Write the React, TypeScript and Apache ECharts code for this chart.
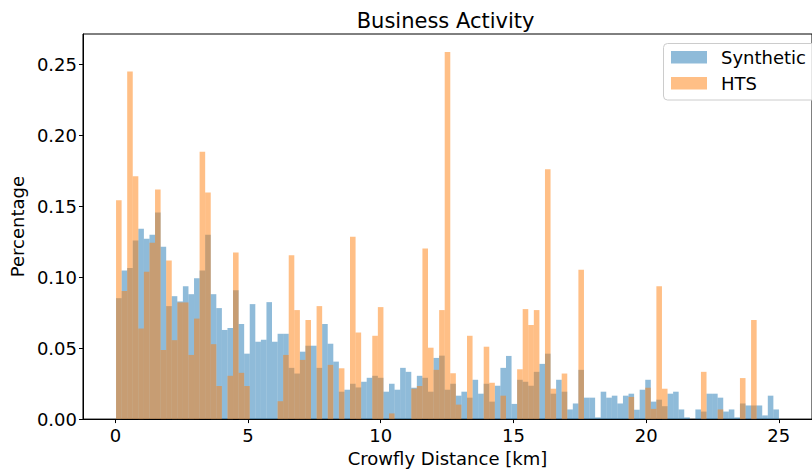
import React, { useEffect, useRef } from "react";
import * as echarts from "echarts";

const binStart = 0.026;
const binWidth = 0.2099;

const synthetic = [
  0.0852, 0.1047, 0.1064, 0.1259, 0.1341, 0.1271, 0.1299, 0.1455, 0.1215, 0.0796,
  0.0866, 0.0829, 0.0936, 0.0880, 0.0992, 0.1047, 0.1299, 0.0880, 0.0782, 0.0628,
  0.0642, 0.0908, 0.0670, 0.0461, 0.0810, 0.0545, 0.0559, 0.0824, 0.0545, 0.0601,
  0.0601, 0.0361, 0.0321, 0.0475, 0.0517, 0.0517, 0.0361, 0.0670, 0.0531, 0.0405,
  0.0193, 0.0207, 0.0249, 0.0223, 0.0263, 0.0291, 0.0305, 0.0291, 0.0193, 0.0249,
  0.0207, 0.0361, 0.0333, 0.0221, 0.0305, 0.0291, 0.0193, 0.0431, 0.0447, 0.0207,
  0.0249, 0.0165, 0.0193, 0.0151, 0.0277, 0.0179, 0.0249, 0.0123, 0.0235, 0.0361,
  0.0445, 0.0107, 0.0277, 0.0263, 0.0235, 0.0333, 0.0389, 0.0461, 0.0179, 0.0277,
  0.0193, 0.0068, 0.0110, 0.0347, 0.0151, 0.0151, 0.0012, 0.0193, 0.0151, 0.0165,
  0.0110, 0.0165, 0.0179, 0.0066, 0.0207, 0.0277, 0.0123, 0.0137, 0.0091, 0.0179,
  0.0193, 0.0068, 0.0012, 0.0000, 0.0068, 0.0053, 0.0179, 0.0179, 0.0151, 0.0053,
  0.0068, 0.0012, 0.0110, 0.0096, 0.0096, 0.0096, 0.0026, 0.0165, 0.0068,
];

const hts = [
  0.1541, 0.0903, 0.2449, 0.1711, 0.0638, 0.1038, 0.1243, 0.1618, 0.0487, 0.1117,
  0.0556, 0.0822, 0.0822, 0.0452, 0.0708, 0.1883, 0.1597, 0.0528, 0.0233, 0.0000,
  0.0305, 0.1173, 0.0326, 0.0233, 0.0000, 0.0000, 0.0000, 0.0000, 0.0000, 0.0126,
  0.0452, 0.1155, 0.0768, 0.0417, 0.0698, 0.0000, 0.0796, 0.0000, 0.0382, 0.0000,
  0.0358, 0.0000, 0.1285, 0.0610, 0.0000, 0.0000, 0.0587, 0.0789, 0.0000, 0.0040,
  0.0000, 0.0000, 0.0000, 0.0214, 0.0233, 0.1201, 0.0503, 0.0347, 0.0768, 0.2586,
  0.0323, 0.0102, 0.0000, 0.0587, 0.0000, 0.0000, 0.0510, 0.0256, 0.0000, 0.0165,
  0.0000, 0.0000, 0.0351, 0.0775, 0.0663, 0.0768, 0.0000, 0.1760, 0.0214, 0.0000,
  0.0321, 0.0000, 0.0000, 0.1052, 0.0000, 0.0000, 0.0000, 0.0000, 0.0000, 0.0000,
  0.0000, 0.0000, 0.0156, 0.0000, 0.0000, 0.0221, 0.0072, 0.0936, 0.0214, 0.0000,
  0.0000, 0.0000, 0.0000, 0.0000, 0.0000, 0.0333, 0.0000, 0.0000, 0.0068, 0.0000,
  0.0000, 0.0000, 0.0289, 0.0000, 0.0698, 0.0000, 0.0000, 0.0000, 0.0000,
];

const xTicks = [0, 5, 10, 15, 20, 25];
const yTicks = [0, 0.05, 0.1, 0.15, 0.2, 0.25];
const seriesNames = ["Synthetic", "HTS"];
const titleText = "Business Activity";
const xLabel = "Crowfly Distance [km]";
const yLabel = "Percentage";

const FONT = "DejaVu Sans";

function toBins(values: number[]) {
  return values
    .map((v, i) => [binStart + i * binWidth, binStart + (i + 1) * binWidth, v])
    .filter((d) => d[2] > 0);
}

function makeRender(fill: string) {
  return (params: any, api: any) => {
    const p0 = api.coord([api.value(0), api.value(2)]);
    const p1 = api.coord([api.value(1), 0]);
    return {
      type: "rect",
      shape: { x: p0[0], y: p0[1], width: p1[0] - p0[0], height: p1[1] - p0[1] },
      style: { fill },
    };
  };
}

export default function App() {
  const ref = useRef<HTMLDivElement>(null);
  useEffect(() => {
    if (!ref.current) return;
    const chart = echarts.init(ref.current, null, { renderer: "svg" });
    const blue = "rgba(31,119,180,0.5)";
    const orange = "rgba(255,127,14,0.5)";
    chart.setOption({
      animation: false,
      backgroundColor: "#fff",
      grid: {
        left: 77,
        top: 34,
        width: 737,
        height: 389,
        show: true,
        borderColor: "#000",
        borderWidth: 1,
      },
      xAxis: {
        type: "value",
        min: -1.22,
        max: 26.25,
        name: xLabel,
        nameLocation: "middle",
        nameGap: 28,
        nameTextStyle: { fontSize: 18, fontFamily: FONT, color: "#000" },
        axisLine: { show: true, onZero: false, lineStyle: { color: "#000", width: 1 } },
        axisTick: { show: true, length: 4, customValues: xTicks, lineStyle: { color: "#000" } },
        axisLabel: {
          customValues: xTicks,
          fontSize: 18,
          fontFamily: FONT,
          color: "#000",
          margin: 7,
          formatter: (v: number) => String(v),
        },
        splitLine: { show: false },
      },
      yAxis: {
        type: "value",
        min: 0,
        max: 0.2713,
        name: yLabel,
        nameLocation: "middle",
        nameGap: 52,
        nameRotate: 90,
        nameTextStyle: { fontSize: 18, fontFamily: FONT, color: "#000" },
        axisLine: { show: true, onZero: false, lineStyle: { color: "#000", width: 1 } },
        axisTick: { show: true, length: 4, customValues: yTicks, lineStyle: { color: "#000" } },
        axisLabel: {
          customValues: yTicks,
          fontSize: 18,
          fontFamily: FONT,
          color: "#000",
          margin: 6,
          formatter: (v: number) => v.toFixed(2),
        },
        splitLine: { show: false },
      },
      series: [
        {
          name: seriesNames[0],
          type: "custom",
          renderItem: makeRender(blue),
          encode: { x: [0, 1], y: 2 },
          data: toBins(synthetic),
        },
        {
          name: seriesNames[1],
          type: "custom",
          renderItem: makeRender(orange),
          encode: { x: [0, 1], y: 2 },
          data: toBins(hts),
        },
      ],
      graphic: [
        {
          type: "text",
          x: 445.6,
          y: 20.5,
          style: {
            text: titleText,
            fontSize: 21,
            fontFamily: FONT,
            fill: "#000",
            textAlign: "center",
            textVerticalAlign: "middle",
          },
        },
        {
          type: "rect",
          shape: { x: 663.5, y: 43.5, width: 170, height: 56.5, r: 4 },
          style: { fill: "rgba(255,255,255,0.8)", stroke: "#cccccc", lineWidth: 1 },
          z: 100,
        },
        {
          type: "rect",
          shape: { x: 671, y: 51, width: 36, height: 12.5 },
          style: { fill: blue },
          z: 101,
        },
        {
          type: "rect",
          shape: { x: 671, y: 77, width: 36, height: 12.5 },
          style: { fill: orange },
          z: 101,
        },
        {
          type: "text",
          x: 721,
          y: 57.5,
          style: {
            text: seriesNames[0],
            fontSize: 18,
            fontFamily: FONT,
            fill: "#000",
            textVerticalAlign: "middle",
          },
          z: 101,
        },
        {
          type: "text",
          x: 721,
          y: 83,
          style: {
            text: seriesNames[1],
            fontSize: 18,
            fontFamily: FONT,
            fill: "#000",
            textVerticalAlign: "middle",
          },
          z: 101,
        },
      ],
    });
    return () => chart.dispose();
  }, []);
  return (
    <div
      ref={ref}
      style={{ position: "fixed", left: 0, top: 0, width: 812, height: 472 }}
    />
  );
}
